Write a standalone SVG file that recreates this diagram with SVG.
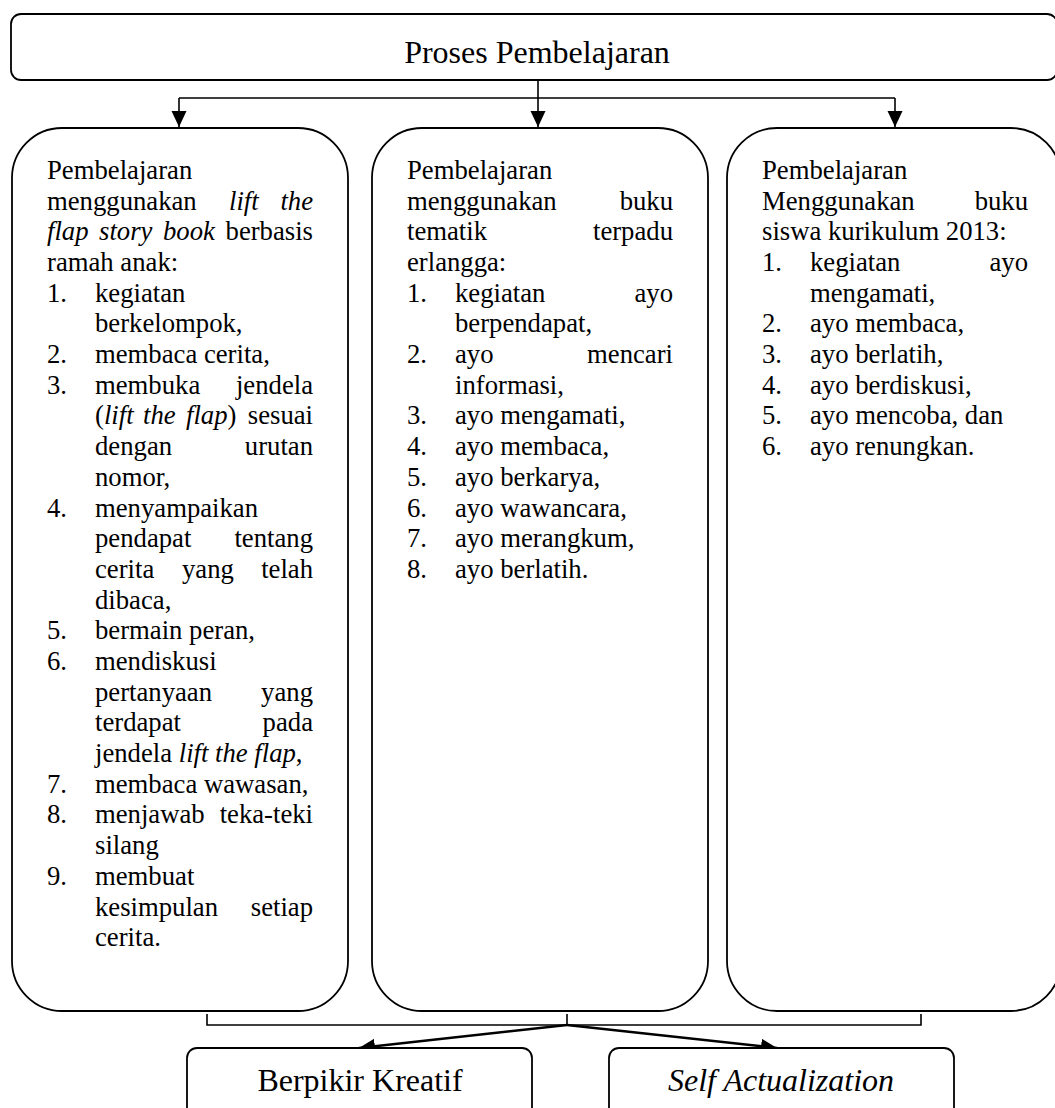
<svg xmlns="http://www.w3.org/2000/svg" width="1055" height="1108" viewBox="0 0 1055 1108">
<style>
.box{fill:#fff;stroke:#000;stroke-width:1.8}
.ln{fill:none;stroke:#000;stroke-width:1.6}
.ar{fill:none;stroke:#000;stroke-width:2.4}
text{font-family:"Liberation Serif","Times New Roman",serif;fill:#000}
.t{font-size:26.7px}
.big{font-size:32px}
.i{font-style:italic}
.e{text-anchor:end}
.c{text-anchor:middle}
</style>
<defs>
<marker id="ah" markerUnits="userSpaceOnUse" markerWidth="18" markerHeight="16" refX="16" refY="7.5" orient="auto">
<path d="M0,0 L16,7.5 L0,15 Z" fill="#000"/>
</marker>
</defs>
<rect width="1055" height="1108" fill="#fff"/>

<g id="connectors">
<path class="ln" d="M538,80 V98 M179,98 H895"/>
<path class="ln" d="M179,98 V127" marker-end="url(#ah)"/>
<path class="ln" d="M538,98 V127" marker-end="url(#ah)"/>
<path class="ln" d="M895,98 V127" marker-end="url(#ah)"/>
<path class="ln" d="M207,1014 V1025 H921 V1014 M567,1014 V1025"/>
<path class="ar" d="M567,1025 L359,1048" marker-end="url(#ah)"/>
<path class="ar" d="M567,1025 L777,1048" marker-end="url(#ah)"/>
</g>

<g id="top">
<rect class="box" x="11" y="14" width="1046" height="66" rx="10"/>
<text class="big c" x="537" y="63">Proses Pembelajaran</text>
</g>

<g id="card1">
<rect class="box" x="12" y="128" width="336" height="883" rx="50"/>
<g class="t">
<text x="47" y="179">Pembelajaran</text>
<text x="47" y="210">menggunakan</text><text class="i" x="229" y="210">lift</text><text class="i e" x="313" y="210">the</text>
<text class="i" x="47" y="240">flap</text><text class="i" x="99" y="240">story</text><text class="i" x="163" y="240">book</text><text class="e" x="313" y="240">berbasis</text>
<text x="47" y="271">ramah anak:</text>
<text x="47" y="302">1.</text><text x="95" y="302">kegiatan</text>
<text x="95" y="332">berkelompok,</text>
<text x="47" y="363">2.</text><text x="95" y="363">membaca cerita,</text>
<text x="47" y="394">3.</text><text x="95" y="394">membuka</text><text class="e" x="313" y="394">jendela</text>
<text x="95" y="424">(<tspan class="i">lift</tspan></text><text class="i" x="143" y="424">the</text><text x="186" y="424"><tspan class="i">flap</tspan>)</text><text class="e" x="313" y="424">sesuai</text>
<text x="95" y="455">dengan</text><text class="e" x="313" y="455">urutan</text>
<text x="95" y="486">nomor,</text>
<text x="47" y="517">4.</text><text x="95" y="517">menyampaikan</text>
<text x="95" y="547">pendapat</text><text class="e" x="313" y="547">tentang</text>
<text x="95" y="578">cerita</text><text x="182" y="578">yang</text><text class="e" x="313" y="578">telah</text>
<text x="95" y="609">dibaca,</text>
<text x="47" y="639">5.</text><text x="95" y="639">bermain peran,</text>
<text x="47" y="670">6.</text><text x="95" y="670">mendiskusi</text>
<text x="95" y="701">pertanyaan</text><text class="e" x="313" y="701">yang</text>
<text x="95" y="731">terdapat</text><text class="e" x="313" y="731">pada</text>
<text x="95" y="762">jendela <tspan class="i">lift the flap</tspan>,</text>
<text x="47" y="793">7.</text><text x="95" y="793">membaca wawasan,</text>
<text x="47" y="823">8.</text><text x="95" y="823">menjawab</text><text class="e" x="313" y="823">teka-teki</text>
<text x="95" y="854">silang</text>
<text x="47" y="885">9.</text><text x="95" y="885">membuat</text>
<text x="95" y="916">kesimpulan</text><text class="e" x="313" y="916">setiap</text>
<text x="95" y="946">cerita.</text>
</g>
</g>

<g id="card2">
<rect class="box" x="372" y="128" width="336" height="883" rx="50"/>
<g class="t">
<text x="407" y="179">Pembelajaran</text>
<text x="407" y="210">menggunakan</text><text class="e" x="673" y="210">buku</text>
<text x="407" y="240">tematik</text><text class="e" x="673" y="240">terpadu</text>
<text x="407" y="271">erlangga:</text>
<text x="407" y="302">1.</text><text x="455" y="302">kegiatan</text><text class="e" x="673" y="302">ayo</text>
<text x="455" y="332">berpendapat,</text>
<text x="407" y="363">2.</text><text x="455" y="363">ayo</text><text class="e" x="673" y="363">mencari</text>
<text x="455" y="394">informasi,</text>
<text x="407" y="424">3.</text><text x="455" y="424">ayo mengamati,</text>
<text x="407" y="455">4.</text><text x="455" y="455">ayo membaca,</text>
<text x="407" y="486">5.</text><text x="455" y="486">ayo berkarya,</text>
<text x="407" y="517">6.</text><text x="455" y="517">ayo wawancara,</text>
<text x="407" y="547">7.</text><text x="455" y="547">ayo merangkum,</text>
<text x="407" y="578">8.</text><text x="455" y="578">ayo berlatih.</text>
</g>
</g>

<g id="card3">
<rect class="box" x="727" y="128" width="334" height="883" rx="50"/>
<g class="t">
<text x="762" y="179">Pembelajaran</text>
<text x="762" y="210">Menggunakan</text><text class="e" x="1028" y="210">buku</text>
<text x="762" y="240">siswa kurikulum 2013:</text>
<text x="762" y="271">1.</text><text x="810" y="271">kegiatan</text><text class="e" x="1028" y="271">ayo</text>
<text x="810" y="302">mengamati,</text>
<text x="762" y="332">2.</text><text x="810" y="332">ayo membaca,</text>
<text x="762" y="363">3.</text><text x="810" y="363">ayo berlatih,</text>
<text x="762" y="394">4.</text><text x="810" y="394">ayo berdiskusi,</text>
<text x="762" y="424">5.</text><text x="810" y="424">ayo mencoba, dan</text>
<text x="762" y="455">6.</text><text x="810" y="455">ayo renungkan.</text>
</g>
</g>

<g id="berpikir">
<rect class="box" x="187" y="1048" width="345" height="80" rx="10"/>
<text class="big c" x="360" y="1091">Berpikir Kreatif</text>
</g>

<g id="self">
<rect class="box" x="609" y="1048" width="345" height="80" rx="10"/>
<text class="big c i" x="781" y="1091">Self Actualization</text>
</g>
</svg>
